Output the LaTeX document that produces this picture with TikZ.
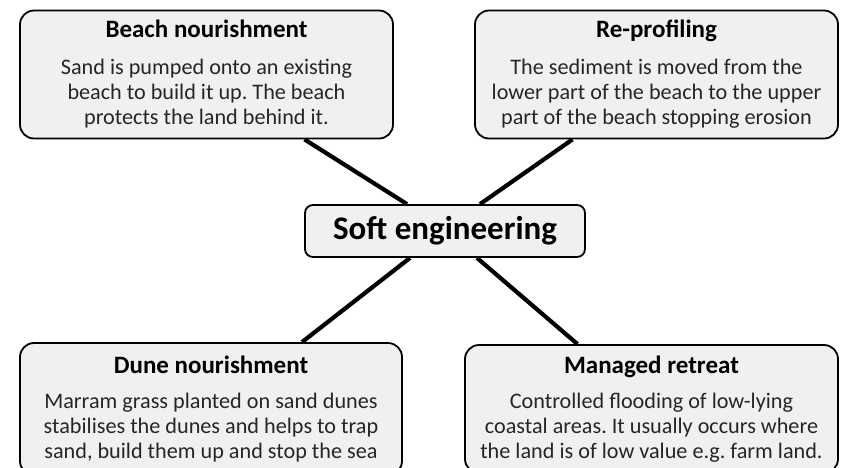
\documentclass[tikz,border=0pt]{standalone}
\usepackage{fontspec}
\setmainfont{Carlito}
\usetikzlibrary{backgrounds}

\newcommand{\cardhead}[1]{{\bfseries\fontsize{25}{26}\selectfont\color{black}#1}}

\begin{document}
\frenchspacing
\begin{tikzpicture}[
  x=1pt, y=-1pt,
  card/.style={draw=black, line width=1.8pt, rounded corners=14pt, fill=black!6,
               align=center, inner sep=0pt, text=black!85,
               font=\fontsize{22.2}{25}\selectfont},
  hub/.style={card, rounded corners=8pt, minimum width=280pt, minimum height=52pt,
              font=\fontsize{33}{36}\selectfont\bfseries, text=black},
  link/.style={line width=4.2pt, draw=black}
]
\useasboundingbox (0,0) rectangle (843,467);

% ================= centre =================
\node[hub] (soft) at (445,231) {Soft engineering};

% ================= four methods =================
\node[card, minimum width=373pt, minimum height=128pt] (beach) at (206.5,74.5)
  {\cardhead{Beach nourishment}\\[12pt]
   Sand is pumped onto an existing\\ beach to build it up. The beach\\ protects the land behind it.};
\node[card, minimum width=363pt, minimum height=128pt] (reprof) at (656.5,74.5)
  {\cardhead{Re-profiling}\\[12pt]
   The sediment is moved from the\\ lower part of the beach to the upper\\ part of the beach stopping erosion};
% bottom row runs off the lower edge
\node[card, minimum width=382pt, minimum height=132pt] (dune) at (211,409)
  {\cardhead{Dune nourishment}\\[10pt]
   Marram grass planted on sand dunes\\ stabilises the dunes and helps to trap\\ sand, build them up and stop the sea};
\node[card, minimum width=373pt, minimum height=128pt] (retreat) at (651.5,409)
  {\cardhead{Managed retreat}\\[10pt]
   Controlled flooding of low-lying\\ coastal areas. It usually occurs where\\ the land is of low value e.g. farm land.};

% ================= spokes =================
\begin{scope}[on background layer]
\draw[link] ([xshift=98pt]beach.south) -- ([xshift=-38pt]soft.north);
\draw[link] ([xshift=-84pt]reprof.south) -- ([xshift=35pt]soft.north);
\draw[link] ([xshift=91pt]dune.north) -- ([xshift=-35pt]soft.south);
\draw[link] ([xshift=-74pt]retreat.north) -- ([xshift=32pt]soft.south);
\end{scope}

\end{tikzpicture}
\end{document}
